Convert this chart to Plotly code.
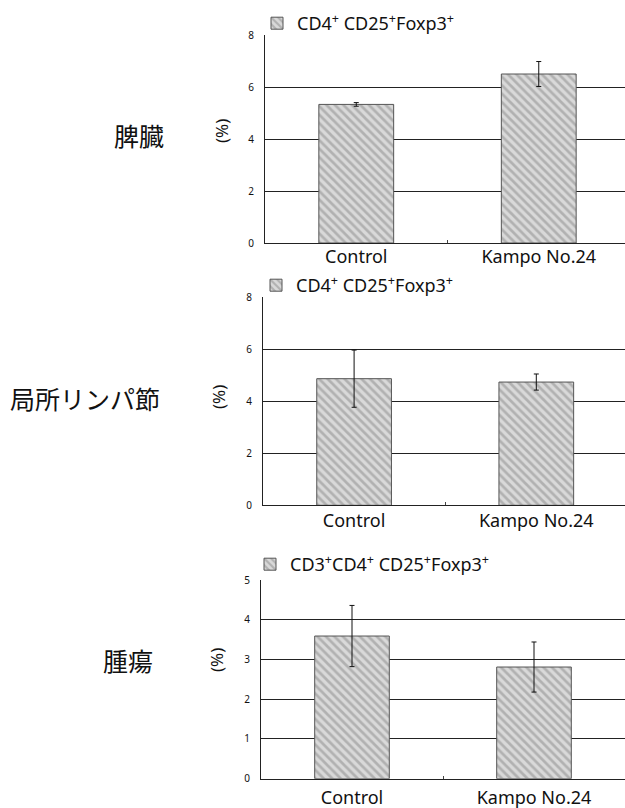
import plotly.graph_objects as go

# ---------------- data ----------------
categories = ["Control", "Kampo No.24"]

spleen_values = [5.33, 6.50]
spleen_errors = [0.07, 0.48]

lymph_values = [4.87, 4.74]
lymph_errors = [1.10, 0.31]

tumor_values = [3.59, 2.81]
tumor_errors = [0.77, 0.63]

organ_labels = ["脾臓", "局所リンパ節", "腫瘍"]
legend_labels = [
    "CD4<sup>+</sup> CD25<sup>+</sup>Foxp3<sup>+</sup>",
    "CD4<sup>+</sup> CD25<sup>+</sup>Foxp3<sup>+</sup>",
    "CD3<sup>+</sup>CD4<sup>+</sup> CD25<sup>+</sup>Foxp3<sup>+</sup>",
]
y_max = [8, 8, 5]
y_dtick = [2, 2, 1]
y_title = "(%)"

# ---------------- layout (pixels) ----------------
W, H = 625, 808
LATIN = "Noto Sans, Open Sans, sans-serif"
CJK = "Noto Sans CJK JP, Noto Sans, sans-serif"

panels = [
    dict(left=265, top=35, bottom=243, spacing=182.5, cat_standoff=-3,
         legend=(257, 5), title_xy=(221, 131), organ_xy=(139, 135)),
    dict(left=263, top=297.3, bottom=505.3, spacing=182.2, cat_standoff=-1,
         legend=(256, 267), title_xy=(218, 397), organ_xy=(85, 398)),
    dict(left=261, top=580, bottom=778.7, spacing=182.0, cat_standoff=3,
         legend=(250, 546), title_xy=(216, 660), organ_xy=(128, 660)),
]

series = [
    (spleen_values, spleen_errors),
    (lymph_values, lymph_errors),
    (tumor_values, tumor_errors),
]

fig = go.Figure()
layout = dict(
    width=W, height=H, autosize=False,
    margin=dict(l=0, r=0, t=0, b=0, autoexpand=False),
    paper_bgcolor="white", plot_bgcolor="white",
    annotations=[],
)

for i, (p, (vals, errs)) in enumerate(zip(panels, series)):
    n = "" if i == 0 else str(i + 1)
    legend_name = "legend" + n
    fig.add_trace(go.Bar(
        x=categories, y=vals,
        xaxis="x" + n, yaxis="y" + n,
        name=legend_labels[i],
        legend=legend_name,
        showlegend=True,
        width=0.41,
        marker=dict(
            color="#d4d4d4",
            line=dict(color="#555555", width=1),
            pattern=dict(shape="\\", fgcolor="#8a8a8a", bgcolor="#d9d9d9",
                         size=6, solidity=0.45),
        ),
        error_y=dict(type="data", array=errs, visible=True,
                     color="#111111", thickness=1, width=2.5),
    ))
    x0 = p["left"] / W
    right_val = -0.5 + (W - p["left"]) / p["spacing"]
    layout["xaxis" + n] = dict(
        domain=[x0, 1], anchor="y" + n,
        type="category", range=[-0.5, right_val],
        showline=True, linecolor="#222222", linewidth=1,
        showgrid=False, zeroline=False, automargin=False,
        ticks="inside", tickson="boundaries", ticklen=3, tickcolor="#444444",
        ticklabelstandoff=p["cat_standoff"],
        tickfont=dict(family=LATIN, size=18, color="#111111"),
        fixedrange=True,
    )
    layout["yaxis" + n] = dict(
        domain=[1 - p["bottom"] / H, 1 - p["top"] / H], anchor="x" + n,
        range=[0, y_max[i]], dtick=y_dtick[i],
        showline=True, linecolor="#222222", linewidth=1,
        showgrid=True, gridcolor="#222222", gridwidth=1,
        zeroline=False, ticks="", automargin=False,
        ticklabelstandoff=8,
        tickfont=dict(family=LATIN, size=10, color="#111111"),
        fixedrange=True,
    )
    lx, ly = p["legend"]
    layout[legend_name] = dict(
        x=lx / W, y=1 - ly / H, xanchor="left", yanchor="top",
        xref="paper", yref="paper",
        bgcolor="rgba(0,0,0,0)", borderwidth=0,
        font=dict(family=LATIN, size=18, color="#111111"),
        itemwidth=30,
    )
    tx, ty = p["title_xy"]
    layout["annotations"].append(dict(
        text=y_title, x=tx / W, y=1 - ty / H, xref="paper", yref="paper",
        xanchor="center", yanchor="middle", showarrow=False, textangle=-90,
        font=dict(family=LATIN, size=17, color="#111111"),
    ))
    ox, oy = p["organ_xy"]
    layout["annotations"].append(dict(
        text=organ_labels[i], x=ox / W, y=1 - oy / H, xref="paper", yref="paper",
        xanchor="center", yanchor="middle", showarrow=False,
        font=dict(family=CJK, size=25, color="#111111"),
    ))

fig.update_layout(**layout)
fig.write_html(
    "out.html",
    config={"displayModeBar": False},
    post_script="document.body.style.margin='0px';document.body.style.overflow='hidden';",
)
